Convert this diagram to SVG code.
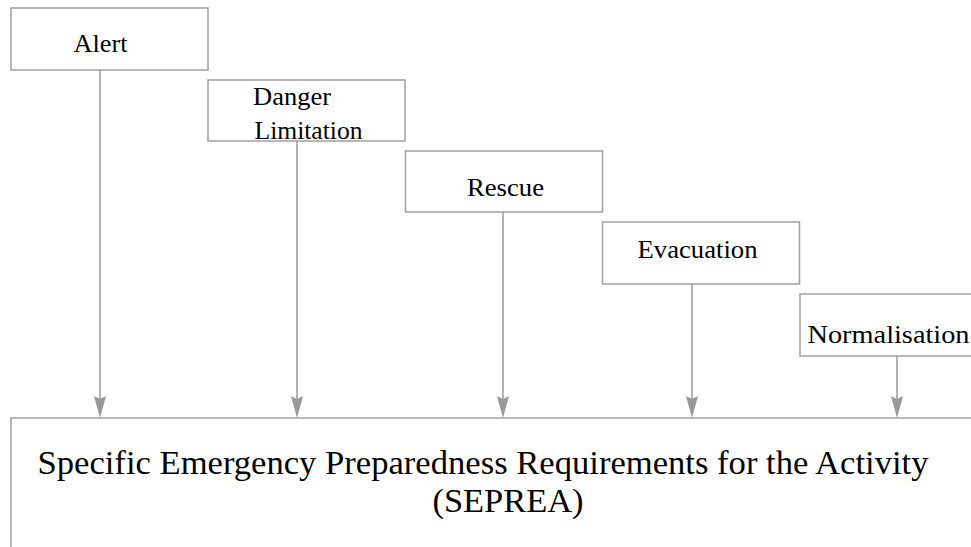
<svg xmlns="http://www.w3.org/2000/svg" width="971" height="547" viewBox="0 0 971 547">
<style>
.box{fill:#ffffff;stroke:#a0a0a0;stroke-width:1.5}
.lbl{font-family:"Liberation Serif","Times New Roman",serif;font-size:25.5px;fill:#000}
.big{font-family:"Liberation Serif","Times New Roman",serif;font-size:33.5px;fill:#000}
.conn{stroke:#999999;stroke-width:1.5;fill:none}
.head{fill:#999999}
</style>
<defs>
<path id="ah" d="M0,0 L6,3 L12,0 L6,22 Z"/>
</defs>
<rect width="971" height="547" fill="#ffffff"/>
<g id="node-alert">
<rect class="box" x="11" y="8" width="197" height="62"/>
<text class="lbl" x="73.5" y="52" textLength="54" lengthAdjust="spacingAndGlyphs">Alert</text>
</g>
<g id="node-danger">
<rect class="box" x="208" y="80" width="197" height="61"/>
<text class="lbl" x="253" y="105" textLength="78" lengthAdjust="spacingAndGlyphs">Danger</text>
<text class="lbl" x="254.5" y="139" textLength="108" lengthAdjust="spacingAndGlyphs">Limitation</text>
</g>
<g id="node-rescue">
<rect class="box" x="405.5" y="151" width="197" height="61"/>
<text class="lbl" x="467" y="196" textLength="77" lengthAdjust="spacingAndGlyphs">Rescue</text>
</g>
<g id="node-evacuation">
<rect class="box" x="602.5" y="222" width="197" height="62"/>
<text class="lbl" x="637.5" y="258" textLength="120" lengthAdjust="spacingAndGlyphs">Evacuation</text>
</g>
<g id="node-normalisation">
<rect class="box" x="800" y="294" width="200" height="62"/>
<text class="lbl" x="807.5" y="343" textLength="162" lengthAdjust="spacingAndGlyphs">Normalisation</text>
</g>
<g id="node-seprea">
<rect class="box" x="11" y="418" width="1000" height="200"/>
<text class="big" x="37.5" y="474" textLength="891" lengthAdjust="spacingAndGlyphs">Specific Emergency Preparedness Requirements for the Activity</text>
<text class="big" x="432.5" y="512" textLength="151" lengthAdjust="spacingAndGlyphs">(SEPREA)</text>
</g>
<g id="connectors">
<line class="conn" x1="100" y1="70" x2="100" y2="400"/>
<line class="conn" x1="297" y1="141" x2="297" y2="400"/>
<line class="conn" x1="503" y1="212" x2="503" y2="400"/>
<line class="conn" x1="692" y1="284" x2="692" y2="400"/>
<line class="conn" x1="897" y1="356" x2="897" y2="400"/>
<use href="#ah" class="head" x="94" y="396"/>
<use href="#ah" class="head" x="291" y="396"/>
<use href="#ah" class="head" x="497" y="396"/>
<use href="#ah" class="head" x="686" y="396"/>
<use href="#ah" class="head" x="891" y="396"/>
</g>
</svg>
